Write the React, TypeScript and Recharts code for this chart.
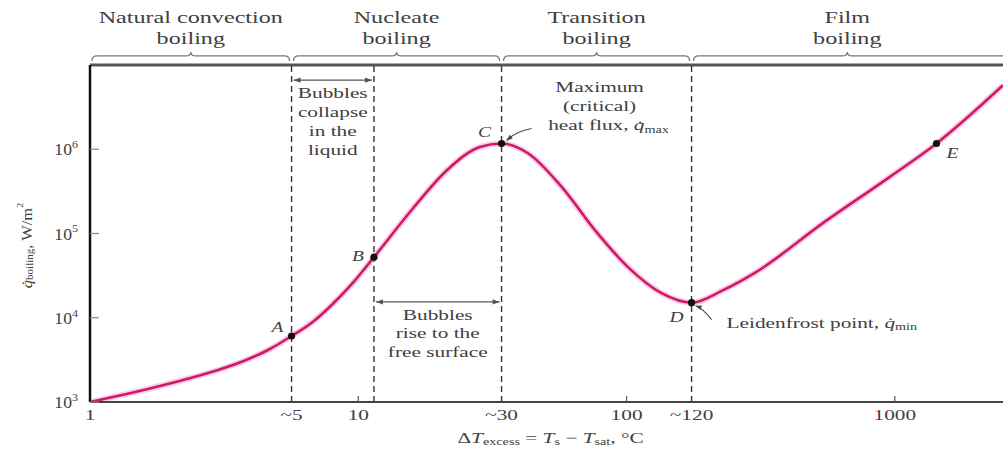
import React from "react";
import { ComposedChart, Line, XAxis, YAxis, ReferenceLine, ReferenceDot, Label } from "recharts";

const FONT = "'Liberation Serif', 'DejaVu Serif', serif";
const INK = "#404040";
const STRETCH = 1.42;

const X_MAX = 2530;
const Q_MIN = 1e3;
const Q_MAX = 1e7;

// boiling curve: excess temperature (°C) vs heat flux (W/m²)
const deltaT = [1, 1.29, 1.7, 2.26, 3.0, 3.78, 4.61, 5.64, 6.78, 7.84, 9.47, 11.44, 16, 21.4, 28.4, 34.2, 42.9, 57.3, 76.2, 101, 135, 174.7, 229, 305, 539, 958, 1430, 2530];
const heatFlux = [1000, 1194, 1466, 1849, 2398, 3110, 4141, 6070, 8980, 13530, 25200, 52400, 199500, 564000, 1065000, 1170000, 897000, 357000, 109600, 40200, 19600, 15100, 21300, 35100, 132700, 470000, 1170000, 5740000];

const pointNames = ["A", "B", "C", "D", "E"];
const pointDeltaT = [5.64, 11.44, 34.2, 174.7, 1430];
const pointFlux = [6070, 52400, 1170000, 15100, 1170000];
const dashedAt = [5.64, 11.44, 34.2, 174.7];

const xTicks = [1, 5.64, 10, 34.2, 100, 174.7, 1000];
const xTickLabels = ["1", "~5", "10", "~30", "100", "~120", "1000"];
const xTickMarks = [10, 100, 1000];
const yTicks = [1e3, 1e4, 1e5, 1e6];
const yTickExps = ["3", "4", "5", "6"];

const regionEdges = [1, 5.64, 34.2, 174.7, X_MAX];
const regionTitles = [
  ["Natural convection", "boiling"],
  ["Nucleate", "boiling"],
  ["Transition", "boiling"],
  ["Film", "boiling"],
];
const BRACE_Q = 1.28e7;

const collapseNote = ["Bubbles", "collapse", "in the", "liquid"];
const COLLAPSE_Q = 6.6e6;
const riseNote = ["Bubbles", "rise to the", "free surface"];
const RISE_Q = 15400;

const curve = deltaT.map((t, i) => ({ t, q: heatFlux[i] }));

const letterOffset: Record<string, [number, number]> = {
  A: [-14, -9],
  B: [-16, -1],
  C: [-17, -11],
  D: [-15, 15],
  E: [16, 10],
};

function SText({ x, y, size = 15, anchor = "middle", italic = false, sx = STRETCH, children }: any) {
  return (
    <g transform={`translate(${x},${y}) scale(${sx},1)`}>
      <text
        x={0}
        y={0}
        textAnchor={anchor}
        dominantBaseline="central"
        fontFamily={FONT}
        fontSize={size}
        fontStyle={italic ? "italic" : "normal"}
        fill={INK}
      >
        {children}
      </text>
    </g>
  );
}

function arrowHead(x: number, y: number, ang: number, len = 7, w = 2.6) {
  const c = Math.cos(ang), s = Math.sin(ang);
  const bx = x - c * len, by = y - s * len;
  return `M${x},${y} L${bx - s * w},${by + c * w} L${bx + s * w},${by - c * w} Z`;
}

const XTick = (props: any) => {
  const { x, y, payload } = props;
  const i = xTicks.indexOf(payload.value);
  const axisY = y - 6;
  return (
    <g>
      {xTickMarks.includes(payload.value) && (
        <line x1={x} x2={x} y1={axisY} y2={axisY - 6} stroke="#555" strokeWidth={1.2} />
      )}
      <SText x={x} y={y + 7} size={15}>
        {xTickLabels[i]}
      </SText>
    </g>
  );
};

const YTick = (props: any) => {
  const { x, y, payload } = props;
  const i = yTicks.indexOf(payload.value);
  const axisX = x + 12;
  return (
    <g>
      <line x1={axisX} x2={axisX + 9} y1={y} y2={y} stroke="#888" strokeWidth={1.2} />
      <SText x={x} y={y + 1} size={16} anchor="end" sx={1.1}>
        10
        <tspan fontSize={11} dy={-6}>
          {yTickExps[i]}
        </tspan>
      </SText>
    </g>
  );
};

const braceShape = (i: number) => (p: any) => {
  const { x1, x2, y1 } = p;
  const l = x1 + 2;
  const r = x2 - 2;
  const m = (x1 + x2) / 2;
  const y = y1;
  const last = i === regionTitles.length - 1;
  const d =
    `M${l},${y + 5} Q${l},${y} ${l + 5},${y} L${m - 5},${y} Q${m},${y} ${m},${y - 4} ` +
    `Q${m},${y} ${m + 5},${y} L${last ? x2 : r - 5},${y}` +
    (last ? "" : ` Q${r},${y} ${r},${y + 5}`);
  return (
    <g>
      <path d={d} fill="none" stroke="#777" strokeWidth={1.3} />
      <SText x={m} y={y - 39} size={17}>
        {regionTitles[i][0]}
      </SText>
      <SText x={m} y={y - 18} size={17}>
        {regionTitles[i][1]}
      </SText>
    </g>
  );
};

const noteShape = (lines: string[], step: number) => (p: any) => {
  const { x1, x2, y1 } = p;
  const l = x1 + 2;
  const r = x2 - 2;
  return (
    <g>
      <line x1={l} x2={r} y1={y1} y2={y1} stroke="#555" strokeWidth={1.2} />
      <path d={arrowHead(l, y1, Math.PI) + " " + arrowHead(r, y1, 0)} fill="#555" />
      {lines.map((t, k) => (
        <SText key={k} x={(x1 + x2) / 2} y={y1 + 13 + k * step} size={15}>
          {t}
        </SText>
      ))}
    </g>
  );
};

const pointShape = (name: string) => (p: any) => {
  const { cx, cy } = p;
  const [dx, dy] = letterOffset[name];
  return (
    <g>
      <circle cx={cx} cy={cy} r={3.6} fill="#111" />
      <SText x={cx + dx} y={cy + dy} size={15} italic sx={1.3}>
        {name}
      </SText>
      {name === "C" && (
        <g>
          <path
            d={`M${cx + 30},${cy - 15} Q${cx + 14},${cy - 12} ${cx + 5},${cy - 3}`}
            fill="none"
            stroke="#444"
            strokeWidth={1.1}
          />
          <path d={arrowHead(cx + 5, cy - 3, (3 * Math.PI) / 4 + 0.1, 6, 2.4)} fill="#444" />
          <SText x={cx + 98} y={cy - 56} size={15}>
            Maximum
          </SText>
          <SText x={cx + 98} y={cy - 37} size={15}>
            (critical)
          </SText>
          <SText x={cx + 107} y={cy - 18} size={15}>
            heat flux,{" "}
            <tspan fontStyle="italic">q&#775;</tspan>
            <tspan fontSize={10} dy={4}>
              max
            </tspan>
          </SText>
        </g>
      )}
      {name === "D" && (
        <g>
          <path
            d={`M${cx + 20},${cy + 17} Q${cx + 12},${cy + 6} ${cx + 4},${cy + 3}`}
            fill="none"
            stroke="#444"
            strokeWidth={1.1}
          />
          <path d={arrowHead(cx + 4, cy + 3, Math.PI + 0.35, 6, 2.4)} fill="#444" />
          <SText x={cx + 35} y={cy + 20} size={15} anchor="start">
            Leidenfrost point,{" "}
            <tspan fontStyle="italic">q&#775;</tspan>
            <tspan fontSize={10} dy={4}>
              min
            </tspan>
          </SText>
        </g>
      )}
    </g>
  );
};

const XTitle = (props: any) => {
  const vb = props.viewBox;
  return (
    <SText x={vb.x + vb.width / 2 + 4} y={vb.y + 36} size={15}>
      Δ<tspan fontStyle="italic">T</tspan>
      <tspan fontSize={10} dy={4}>excess</tspan>
      <tspan dy={-4}> = </tspan>
      <tspan fontStyle="italic">T</tspan>
      <tspan fontSize={10} dy={4}>s</tspan>
      <tspan dy={-4}> − </tspan>
      <tspan fontStyle="italic">T</tspan>
      <tspan fontSize={10} dy={4}>sat</tspan>
      <tspan dy={-4}>, °C</tspan>
    </SText>
  );
};

const YTitle = (props: any) => {
  const vb = props.viewBox;
  const x = vb.x + 26;
  const y = vb.y + vb.height / 2 + 12;
  return (
    <text
      transform={`translate(${x},${y}) rotate(-90) scale(1.1,1)`}
      textAnchor="middle"
      dominantBaseline="central"
      fontFamily={FONT}
      fontSize={15}
      fill={INK}
    >
      <tspan fontStyle="italic">q&#775;</tspan>
      <tspan fontSize={10} dy={3}>boiling</tspan>
      <tspan dy={-3}>, W/m</tspan>
      <tspan fontSize={9} dy={-6}>2</tspan>
    </text>
  );
};

export default function App() {
  return (
    <div style={{ position: "absolute", left: 0, top: 0, width: 1003, height: 452, background: "#fff" }}>
      <ComposedChart width={1003} height={452} data={curve} margin={{ top: 65, right: 0, bottom: 0, left: 0 }}>
        <XAxis
          dataKey="t"
          type="number"
          scale="log"
          domain={[1, X_MAX]}
          allowDataOverflow
          ticks={xTicks}
          tick={<XTick />}
          tickLine={false}
          tickSize={0}
          tickMargin={6}
          height={50}
          axisLine={{ stroke: "#444", strokeWidth: 2 }}
          interval={0}
        >
          <Label content={<XTitle />} />
        </XAxis>
        <YAxis
          type="number"
          scale="log"
          domain={[Q_MIN, Q_MAX]}
          allowDataOverflow
          ticks={yTicks}
          tick={<YTick />}
          tickLine={false}
          tickSize={0}
          tickMargin={12}
          width={90}
          axisLine={{ stroke: "#111", strokeWidth: 2.5 }}
          interval={0}
        >
          <Label content={<YTitle />} />
        </YAxis>

        <ReferenceLine y={Q_MAX} stroke="#555" strokeWidth={3} ifOverflow="visible" />
        {dashedAt.map((t) => (
          <ReferenceLine key={t} x={t} stroke="#333" strokeWidth={1.4} strokeDasharray="6 4" />
        ))}

        {regionTitles.map((_, i) => (
          <ReferenceLine
            key={"brace" + i}
            segment={[
              { x: regionEdges[i], y: BRACE_Q },
              { x: regionEdges[i + 1], y: BRACE_Q },
            ]}
            ifOverflow="visible"
            shape={braceShape(i)}
          />
        ))}

        <ReferenceLine
          segment={[
            { x: dashedAt[0], y: COLLAPSE_Q },
            { x: dashedAt[1], y: COLLAPSE_Q },
          ]}
          ifOverflow="visible"
          shape={noteShape(collapseNote, 19)}
        />
        <ReferenceLine
          segment={[
            { x: dashedAt[1], y: RISE_Q },
            { x: dashedAt[2], y: RISE_Q },
          ]}
          ifOverflow="visible"
          shape={noteShape(riseNote, 18.5)}
        />

        <Line
          dataKey="q"
          type="monotone"
          stroke="#f3a6cb"
          strokeOpacity={0.55}
          strokeWidth={6}
          dot={false}
          isAnimationActive={false}
        />
        <Line
          dataKey="q"
          type="monotone"
          stroke="#d1176b"
          strokeWidth={2.6}
          dot={false}
          isAnimationActive={false}
        />

        {pointNames.map((n, i) => (
          <ReferenceDot
            key={n}
            x={pointDeltaT[i]}
            y={pointFlux[i]}
            r={3.6}
            ifOverflow="visible"
            shape={pointShape(n)}
          />
        ))}
      </ComposedChart>
    </div>
  );
}
